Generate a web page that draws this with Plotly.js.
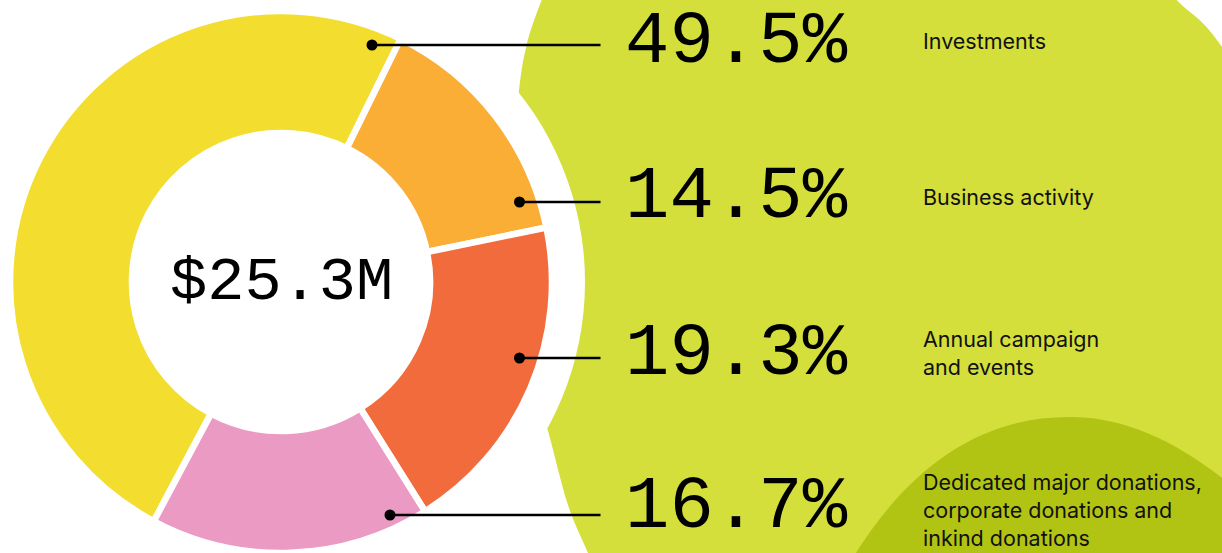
<!DOCTYPE html>
<html>
<head>
<meta charset="utf-8">
<script src="https://cdn.plot.ly/plotly-3.0.1.min.js"></script>
<style>html,body{margin:0;padding:0;background:#fff;}#chart{width:1222px;height:553px;}</style>
</head>
<body>
<div id="chart"></div>
<script>
// ---- data ----
const categories = ["Investments", "Business activity", "Annual campaign<br>and events", "Dedicated major donations,<br>corporate donations and<br>inkind donations"];
const shares = [49.5, 14.5, 19.3, 16.7];
const totalLabel = "$25.3M";
const sliceColors = ["#F3DD2F", "#FBAE36", "#F26B3C", "#EA9AC3"];

// ---- geometry helpers (page layout, not data) ----
const W = 1222, H = 553;
const cx = 281, cy = 282, R = 271;
function X(x){ return x / W; }
function Y(y){ return 1 - y / H; }
function P(x, y){ return X(x).toFixed(5) + "," + Y(y).toFixed(5); }
function smoothClosed(pts){
  const n = pts.length;
  let d = "M" + P(pts[0][0], pts[0][1]);
  for (let i = 0; i < n; i++){
    const p0 = pts[(i - 1 + n) % n], p1 = pts[i], p2 = pts[(i + 1) % n], p3 = pts[(i + 2) % n];
    const c1 = [p1[0] + (p2[0] - p0[0]) / 6, p1[1] + (p2[1] - p0[1]) / 6];
    const c2 = [p2[0] - (p3[0] - p1[0]) / 6, p2[1] - (p3[1] - p1[1]) / 6];
    d += " C" + P(c1[0], c1[1]) + " " + P(c2[0], c2[1]) + " " + P(p2[0], p2[1]);
  }
  return d + " Z";
}

const limeBlob = [[575,-80],[541.7,0],[526.7,45],[519,90],[511,170],[512,260],[525,350],[548.3,432],[568,505],[588,553],[608,600],[900,640],[1300,600],[1320,200],[1222,46.7],[1176.7,0],[1120,-60],[850,-100]];
const darkPath = "M" + P(840,580) + " C" + P(900,470) + " " + P(980,415) + " " + P(1073,417) +
                 " C" + P(1140,418) + " " + P(1200,455) + " " + P(1260,510) +
                 " L" + P(1260,600) + " Z";

const shapes = [
  {type:"path", xref:"paper", yref:"paper", path: smoothClosed(limeBlob), fillcolor:"#D4DF3C", line:{width:0}, layer:"below"},
  {type:"path", xref:"paper", yref:"paper", path: darkPath, fillcolor:"#B2C413", line:{width:0}, layer:"below"},
  {type:"circle", xref:"paper", yref:"paper", x0:X(cx-304), x1:X(cx+304), y0:Y(cy+304), y1:Y(cy-304), fillcolor:"#FFFFFF", line:{width:0}, layer:"below"}
];

// leader lines and dots
const leaderY = [45, 202, 358, 515];
const dotX = [372, 519.5, 519.5, 390];
leaderY.forEach((ly, i) => {
  shapes.push({type:"line", xref:"paper", yref:"paper", x0:X(dotX[i]), x1:X(600.5), y0:Y(ly), y1:Y(ly), line:{color:"#000", width:2.6}, layer:"above"});
  shapes.push({type:"circle", xref:"paper", yref:"paper", x0:X(dotX[i]-5.5), x1:X(dotX[i]+5.5), y0:Y(ly+5.5), y1:Y(ly-5.5), fillcolor:"#000", line:{width:0}, layer:"above"});
});

const pctY = [42, 197, 354, 507];
const labelY = [41, 197, 353, 510];
const annotations = [
  {xref:"paper", yref:"paper", x:X(cx), y:Y(cy), text: totalLabel, showarrow:false, xanchor:"center", yanchor:"middle",
   font:{family:"Liberation Mono, DejaVu Sans Mono, monospace", size:62, color:"#000"}}
];
shares.forEach((v, i) => {
  annotations.push({xref:"paper", yref:"paper", x:X(623), y:Y(pctY[i]), text: v.toFixed(1) + "%", showarrow:false,
    xanchor:"left", yanchor:"middle",
    font:{family:"Liberation Mono, DejaVu Sans Mono, monospace", size:74, color:"#000"}});
  annotations.push({xref:"paper", yref:"paper", x:X(921), y:Y(labelY[i]), text: categories[i], showarrow:false,
    xanchor:"left", yanchor:"middle", align:"left", font:{family:"Inter, Lato, sans-serif", size:21.5, color:"#111"}});
});

const trace = {
  type: "pie",
  labels: categories,
  values: shares,
  sort: false,
  direction: "clockwise",
  rotation: -152,
  hole: 0.55,
  textinfo: "none",
  hoverinfo: "skip",
  showlegend: false,
  marker: {colors: sliceColors, line: {color: "#FFFFFF", width: 6.5}},
  domain: {x: [X(cx - R), X(cx + R)], y: [Y(cy + R), Y(cy - R)]}
};

const layout = {
  width: W, height: H,
  margin: {l:0, r:0, t:0, b:0},
  paper_bgcolor: "#FFFFFF",
  plot_bgcolor: "#FFFFFF",
  showlegend: false,
  shapes: shapes,
  annotations: annotations
};

Plotly.newPlot("chart", [trace], layout, {displayModeBar:false, staticPlot:true});
</script>
</body>
</html>
